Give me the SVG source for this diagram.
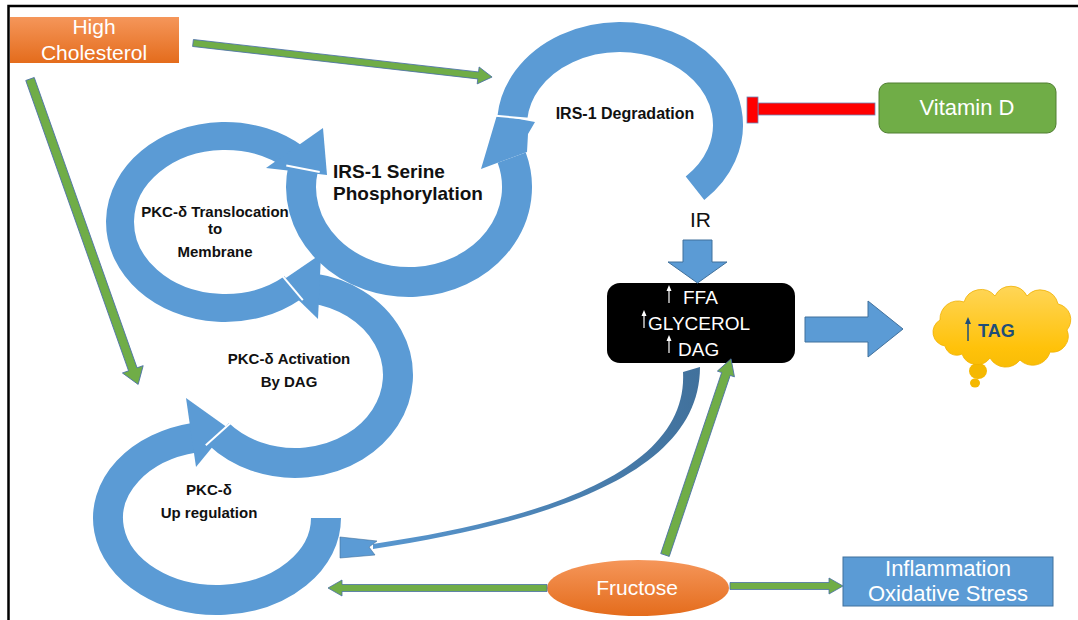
<svg xmlns="http://www.w3.org/2000/svg" width="1078" height="620" viewBox="0 0 1078 620">
<defs>
<linearGradient id="gOrange" x1="0" y1="0" x2="0" y2="1"><stop offset="0" stop-color="#F5965A"/><stop offset="1" stop-color="#E46C1C"/></linearGradient>
<linearGradient id="gCloud" x1="0" y1="285" x2="0" y2="390" gradientUnits="userSpaceOnUse"><stop offset="0" stop-color="#FFD659"/><stop offset="0.6" stop-color="#FFC20A"/><stop offset="1" stop-color="#F2B600"/></linearGradient>
<linearGradient id="gCurve" x1="700" y1="0" x2="340" y2="0" gradientUnits="userSpaceOnUse"><stop offset="0" stop-color="#41719C"/><stop offset="1" stop-color="#5B9BD5"/></linearGradient>
</defs>
<style>
.loop{fill:none;stroke:#5B9BD5;stroke-width:30;stroke-linecap:butt}
.head{fill:#5B9BD5}
.brk{stroke:#fff;stroke-width:2}
.g{fill:#70AD47;stroke:#4A6FA8;stroke-width:0.8}
.blk{fill:#5B9BD5;stroke:#41719C;stroke-width:1}
.lbl{font-family:"Liberation Sans",Arial,sans-serif;font-weight:bold;fill:#111;text-anchor:middle}
.wt{font-family:"Liberation Sans",Arial,sans-serif;fill:#fff;font-size:22px;text-anchor:middle}
.bx{font-family:"Liberation Sans",Arial,sans-serif;fill:#fff;font-size:19px}
</style>
<rect x="0" y="0" width="1078" height="620" fill="#fff"/>
<path d="M8.5,620 V6 H1078" fill="none" stroke="#000" stroke-width="2.5"/>

<g id="node-pkc-upregulation">
<path class="loop" d="M326,518 A109 82 0 1 1 194.3,437.8"/>
<polygon class="head" points="186,398 228,428 196,467"/>
<text class="lbl" font-size="15" x="209" y="495">PKC-δ</text>
<text class="lbl" font-size="15" x="209" y="518">Up regulation</text>
</g>

<g id="node-pkc-activation">
<path class="loop" d="M218.5,433.9 A103 88 0 1 0 312.9,288.3"/>
<polygon class="head" points="321,254 280,282 318,319"/>
<line class="brk" x1="205.8" y1="445.2" x2="231.1" y2="422.5"/>
<text class="lbl" font-size="15" x="289" y="364">PKC-δ Activation</text>
<text class="lbl" font-size="15" x="289" y="387">By DAG</text>
</g>

<g id="node-pkc-translocation">
<path class="loop" style="stroke-width:28" d="M292.5,287.9 A105 86 0 1 1 295.3,158.1"/>
<polygon class="head" points="323,128 327,175 266,168"/>
<line class="brk" x1="302.8" y1="300.1" x2="282.2" y2="275.7"/>
<text class="lbl" font-size="15" x="215" y="217">PKC-δ Translocation</text>
<text class="lbl" font-size="15" x="215" y="234">to</text>
<text class="lbl" font-size="15" x="215" y="257">Membrane</text>
</g>

<g id="node-irs1-serine">
<path class="loop" d="M303,168.9 A108 95 0 1 0 511.7,157.6"/>
<polygon class="head" points="497,163 481,169 497,115 535,122 528,134 527,152"/>
<line class="brk" x1="286.3" y1="165.6" x2="319.7" y2="172.1"/>
<text class="lbl" font-size="19" x="333" y="178" style="text-anchor:start">IRS-1 Serine</text>
<text class="lbl" font-size="19" x="333" y="200" style="text-anchor:start">Phosphorylation</text>
</g>

<g id="node-irs1-degradation">
<path class="loop" d="M512.4,117.3 A108 88 0 1 1 695,188.3"/>
<line class="brk" x1="495.5" y1="115.8" x2="529.4" y2="118.8"/>
<text class="lbl" font-size="16" x="625" y="119">IRS-1 Degradation</text>
</g>

<g id="node-high-cholesterol">
<rect x="10" y="17" width="169" height="46" fill="url(#gOrange)"/>
<text class="wt" style="font-size:21px" x="94" y="34">High</text>
<text class="wt" style="font-size:21px" x="94" y="60">Cholesterol</text>
</g>

<g id="node-vitamin-d">
<rect x="879" y="83" width="177" height="50" rx="9" fill="#70AD47" stroke="#507E32" stroke-width="1"/>
<text class="wt" x="967" y="115">Vitamin D</text>
</g>

<g id="node-ir">
<text x="690" y="227" font-family="Liberation Sans, Arial, sans-serif" font-size="21" fill="#111">IR</text>
</g>

<g id="node-lipids">
<rect x="607" y="283" width="188" height="80" rx="13" fill="#000"/>
<g stroke="#fff" stroke-width="1.2" fill="#fff">
<line x1="669" y1="303" x2="669" y2="290"/><polygon points="666.5,291 669,285 671.5,291" stroke="none"/>
<line x1="644" y1="328" x2="644" y2="315"/><polygon points="641.5,316 644,310 646.5,316" stroke="none"/>
<line x1="669" y1="353" x2="669" y2="340"/><polygon points="666.5,341 669,335 671.5,341" stroke="none"/>
</g>
<text class="bx" x="683" y="304">FFA</text>
<text class="bx" x="648" y="330">GLYCEROL</text>
<text class="bx" x="678" y="356">DAG</text>
</g>

<g id="node-tag">
<ellipse cx="978" cy="371" rx="9" ry="8" fill="#F5B800"/>
<ellipse cx="975" cy="383" rx="5" ry="4.5" fill="#F5B800"/>
<path fill="url(#gCloud)" stroke="#F0B000" stroke-width="0.8" d="M945,346 A14 14 0 0 1 940,320 A18 18 0 0 1 964,302 A18 18 0 0 1 995,296 A18 18 0 0 1 1027,296 A18 18 0 0 1 1058,304 A16 16 0 0 1 1067,330 A16 16 0 0 1 1050,352 A18 18 0 0 1 1020,360 A18 18 0 0 1 990,358 A16 16 0 0 1 962,354 A12 12 0 0 1 945,346 Z"/>
<line x1="968" y1="341" x2="968" y2="322" stroke="#1F4E79" stroke-width="1.5"/>
<polygon points="965,324 968,317 971,324" fill="#1F4E79"/>
<text x="978" y="337" font-family="Liberation Sans, Arial, sans-serif" font-weight="bold" font-size="18" fill="#1F4E79">TAG</text>
</g>

<g id="node-fructose">
<ellipse cx="638" cy="588" rx="91" ry="28" fill="url(#gOrange)"/>
<text class="wt" style="font-size:21px" x="637" y="595">Fructose</text>
</g>

<g id="node-inflammation">
<rect x="843" y="557" width="210" height="49" fill="#5B9BD5" stroke="#41719C" stroke-width="1"/>
<text class="wt" x="948" y="576">Inflammation</text>
<text class="wt" x="948" y="601">Oxidative Stress</text>
</g>

<g id="connectors">
<polygon class="g" transform="translate(193,43) rotate(6.49)" points="0,-3.5 287,-3.5 287,-8.5 301,0 287,8.5 287,3.5 0,3.5"/>
<polygon class="g" transform="translate(30,79) rotate(70.5)" points="0,-4.5 308,-4.5 308,-11 324,0 308,11 308,4.5 0,4.5"/>
<polygon class="g" transform="translate(547,588) rotate(180)" points="0,-3.5 205,-3.5 205,-8 219,0 205,8 205,3.5 0,3.5"/>
<polygon class="g" transform="translate(730,586)" points="0,-3.5 99,-3.5 99,-8 113,0 99,8 99,3.5 0,3.5"/>
<polygon class="g" transform="translate(665,555) rotate(-71.4)" points="0,-4.5 191,-4.5 191,-9 207,0 191,9 191,4.5 0,4.5"/>
<polygon class="blk" points="683,240 712,240 712,262 727,262 697.5,283 668,262 683,262"/>
<polygon class="blk" points="805,317 868,317 868,301 903,329 868,357 868,342 805,342"/>
<g id="inhibit-vitd">
<rect x="758" y="103" width="117" height="12" fill="#FF0000" stroke="#6D87B8" stroke-width="0.8"/>
<rect x="747" y="97" width="11" height="26" fill="#FF0000" stroke="#6D87B8" stroke-width="0.8"/>
</g>
<path fill="url(#gCurve)" d="M700,367 C700,470 560,520 373,549 L373,544 C558,517 688,466 683,372 Z"/>
<polygon fill="#5B9BD5" stroke="#41719C" stroke-width="0.6" points="340,537 377,541 369,547 375,555 340,558"/>
</g>
</svg>
